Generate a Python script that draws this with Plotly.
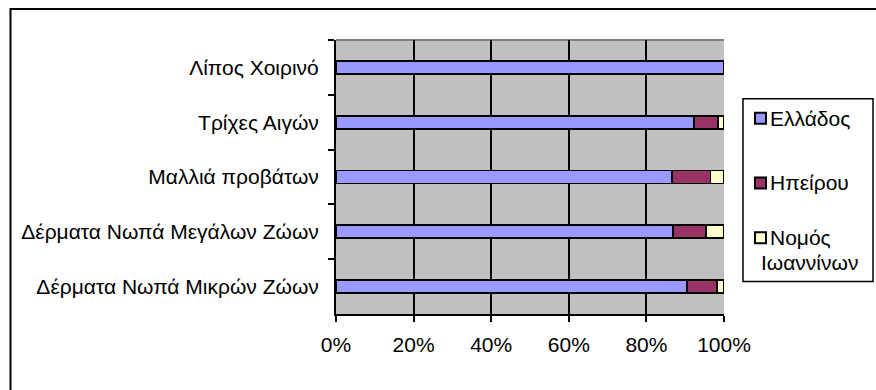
import plotly.graph_objects as go

# Categories, listed top to bottom
categories = [
    "Λίπος Χοιρινό",
    "Τρίχες Αιγών",
    "Μαλλιά προβάτων",
    "Δέρματα Νωπά Μεγάλων Ζώων",
    "Δέρματα Νωπά Μικρών Ζώων",
]

# Share (%) of each region per category
ellados = [100.0, 92.3, 86.6, 86.8, 90.5]
ipeirou = [0.0, 6.1, 9.9, 8.5, 7.7]
nomos_ioanninon = [0.0, 1.6, 3.5, 4.7, 1.8]

series_names = ["Ελλάδος", "Ηπείρου", "Νομός<br>Ιωαννίνων"]
series_values = [ellados, ipeirou, nomos_ioanninon]
series_colors = ["#9999FF", "#993366", "#FFFFCC"]

x_tick_values = [0, 20, 40, 60, 80, 100]
x_tick_labels = ["0%", "20%", "40%", "60%", "80%", "100%"]

FONT = "Liberation Sans, Arial, sans-serif"
FONT_SIZE = 21

W, H = 876, 390
# plot area in pixels
PL, PR, PT, PB = 336, 724, 39.5, 314.5


def px(x):
    return (x - PL) / (PR - PL)


def py(y):
    return (PB - y) / (PB - PT)


fig = go.Figure()
for name, vals, col in zip(series_names, series_values, series_colors):
    fig.add_trace(go.Bar(
        y=categories, x=vals, orientation="h", name=name,
        marker=dict(color=col, line=dict(color="black", width=1.8)),
        showlegend=False,
    ))

shapes = []
# outer chart frame
shapes.append(dict(type="rect", xref="paper", yref="paper",
                   x0=px(10.5), x1=px(890), y0=py(400), y1=py(8.5),
                   line=dict(color="black", width=2), layer="above"))
# top border of plot area
shapes.append(dict(type="line", xref="paper", yref="paper",
                   x0=0, x1=1, y0=1, y1=1,
                   line=dict(color="#808080", width=2), layer="below"))

# legend box
LX0, LX1, LY0, LY1 = 743, 873, 98.5, 282
shapes.append(dict(type="rect", xref="paper", yref="paper",
                   x0=px(LX0), x1=px(LX1), y0=py(LY1), y1=py(LY0),
                   line=dict(color="black", width=1.5), fillcolor="white",
                   layer="above"))

annotations = []
legend_rows = [118, 183, 238]
LINE_STEP = 24.5
for name, col, ry in zip(series_names, series_colors, legend_rows):
    shapes.append(dict(type="rect", xref="paper", yref="paper",
                       x0=px(755), x1=px(766), y0=py(ry + 5.5), y1=py(ry - 5.5),
                       line=dict(color="black", width=2), fillcolor=col,
                       layer="above"))
    # wrapped legend text: one annotation per line
    for i, line in enumerate(name.split("<br>")):
        lx = 769 if i == 0 else 760
        annotations.append(dict(xref="paper", yref="paper",
                                x=px(lx), y=py(ry + i * LINE_STEP),
                                xanchor="left", yanchor="middle",
                                text=line, showarrow=False, borderpad=0,
                                font=dict(family=FONT, size=FONT_SIZE,
                                          color="black")))

fig.update_layout(
    width=W, height=H,
    margin=dict(l=PL, r=W - PR, t=PT, b=H - PB, pad=0),
    paper_bgcolor="white", plot_bgcolor="#C0C0C0",
    barmode="stack", bargap=0.76,
    font=dict(family=FONT, size=FONT_SIZE, color="black"),
    shapes=shapes, annotations=annotations,
    showlegend=False,
)
fig.update_xaxes(
    range=[0, 100], tickvals=x_tick_values, ticktext=x_tick_labels,
    showgrid=True, gridcolor="black", gridwidth=2,
    showline=True, linecolor="black", linewidth=2,
    ticks="outside", ticklen=6, tickwidth=2, tickcolor="black",
    ticklabelstandoff=5, zeroline=False, fixedrange=True,
)
fig.update_yaxes(
    categoryorder="array", categoryarray=categories, autorange="reversed",
    tickson="boundaries", ticks="outside", ticklen=6, tickwidth=2,
    tickcolor="black", showline=True, linecolor="black", linewidth=2,
    showgrid=False, ticklabelstandoff=11, fixedrange=True,
)

fig.write_html("out.html")
